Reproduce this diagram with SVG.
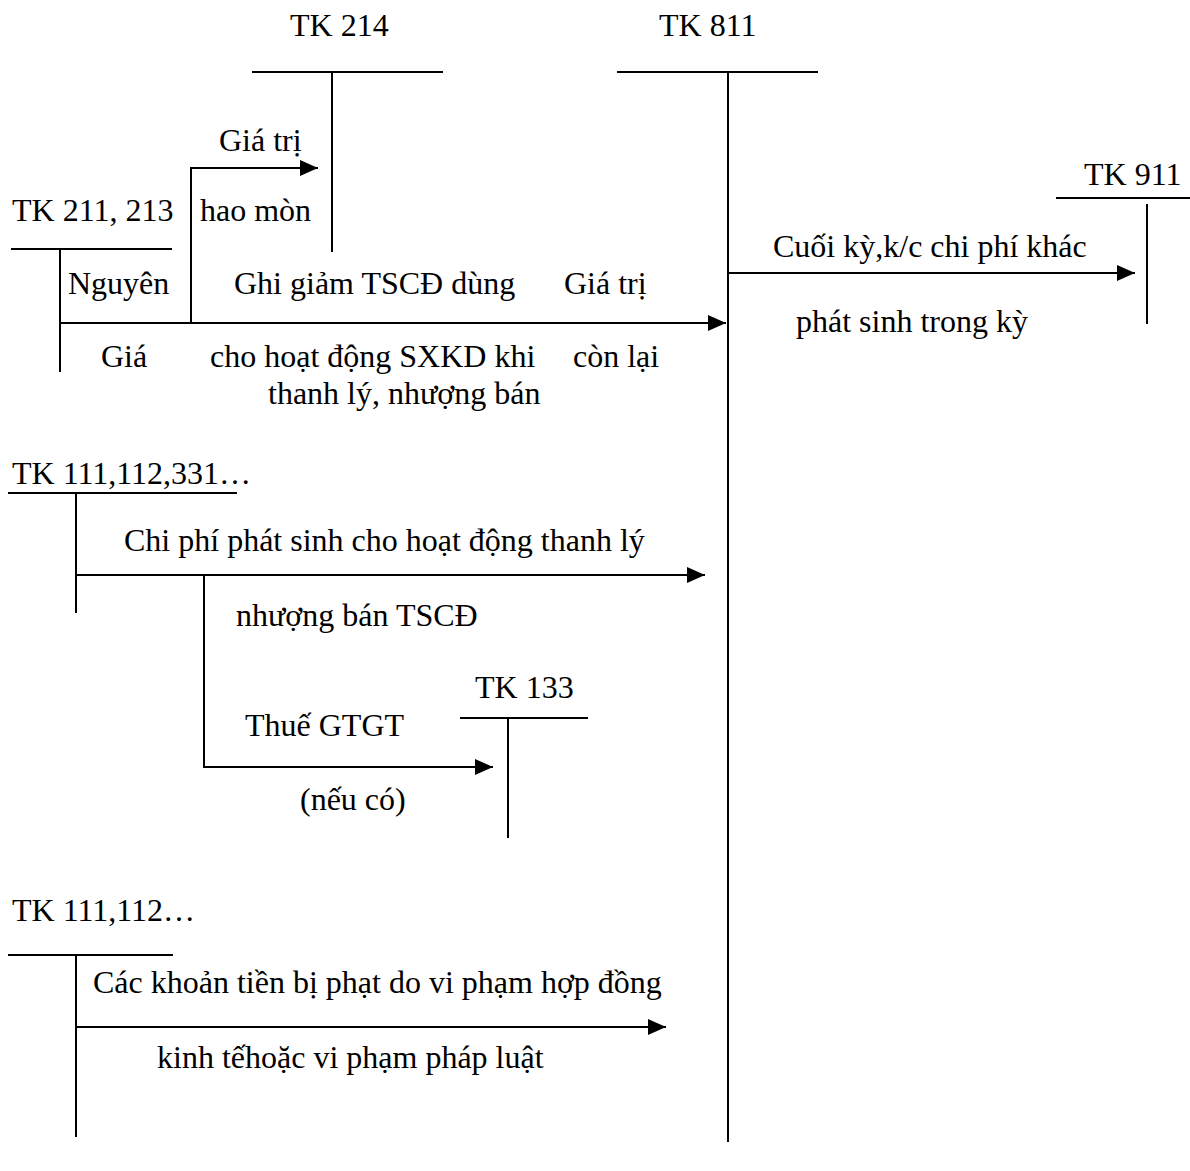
<svg xmlns="http://www.w3.org/2000/svg" width="1190" height="1171" viewBox="0 0 1190 1171">
  <style>
    text { font-family: "Liberation Serif", "Times New Roman", serif; font-size: 32px; fill: #000; }
    .ln { stroke: #000; stroke-width: 2; fill: none; }
    .ar { stroke: #000; stroke-width: 2; fill: none; marker-end: url(#head); }
  </style>
  <defs>
    <marker id="head" markerUnits="userSpaceOnUse" markerWidth="20" markerHeight="16" refX="18" refY="8" orient="auto">
      <path d="M0,0 L18,8 L0,16 Z" fill="#000"/>
    </marker>
  </defs>
  <rect width="1190" height="1171" fill="#fff"/>

  <!-- T-accounts -->
  <g id="tk214">
    <text x="290" y="36">TK 214</text>
    <line class="ln" x1="252" y1="72" x2="443" y2="72"/>
    <line class="ln" x1="332" y1="72" x2="332" y2="252"/>
  </g>
  <g id="tk811">
    <text x="659" y="36">TK 811</text>
    <line class="ln" x1="617" y1="72" x2="818" y2="72"/>
    <line class="ln" x1="728" y1="72" x2="728" y2="1142"/>
  </g>
  <g id="tk911">
    <text x="1084" y="185">TK 911</text>
    <line class="ln" x1="1056" y1="198" x2="1190" y2="198"/>
    <line class="ln" x1="1147" y1="204" x2="1147" y2="324"/>
  </g>
  <g id="tk211">
    <text x="12" y="221">TK 211, 213</text>
    <line class="ln" x1="11" y1="249" x2="172" y2="249"/>
    <line class="ln" x1="60" y1="249" x2="60" y2="372"/>
  </g>
  <g id="tk111-331">
    <text x="12" y="484">TK 111,112,331…</text>
    <line class="ln" x1="8" y1="493" x2="237" y2="493"/>
    <line class="ln" x1="76" y1="493" x2="76" y2="613"/>
  </g>
  <g id="tk133">
    <text x="475" y="698">TK 133</text>
    <line class="ln" x1="460" y1="718" x2="588" y2="718"/>
    <line class="ln" x1="508" y1="718" x2="508" y2="838"/>
  </g>
  <g id="tk111-112">
    <text x="12" y="921">TK 111,112…</text>
    <line class="ln" x1="8" y1="955" x2="173" y2="955"/>
    <line class="ln" x1="76" y1="955" x2="76" y2="1137"/>
  </g>

  <!-- Connectors -->
  <g id="connectors">
    <path class="ar" d="M60,323 L726,323"/>
    <path class="ar" d="M191,323 L191,168 L318,168"/>
    <path class="ar" d="M728,273 L1135,273"/>
    <path class="ar" d="M76,575 L705,575"/>
    <path class="ar" d="M204,575 L204,767 L493,767"/>
    <path class="ar" d="M76,1027 L666,1027"/>
  </g>

  <!-- Labels -->
  <g id="labels">
    <text x="219" y="151">Giá trị</text>
    <text x="200" y="221">hao mòn</text>
    <text x="68" y="294">Nguyên</text>
    <text x="101" y="367">Giá</text>
    <text x="234" y="294">Ghi giảm TSCĐ dùng</text>
    <text x="210" y="367">cho hoạt động SXKD khi</text>
    <text x="268" y="404">thanh lý, nhượng bán</text>
    <text x="564" y="294">Giá trị</text>
    <text x="573" y="367">còn lại</text>
    <text x="773" y="257">Cuối kỳ,k/c chi phí khác</text>
    <text x="796" y="332">phát sinh trong kỳ</text>
    <text x="124" y="551">Chi phí phát sinh cho hoạt động thanh lý</text>
    <text x="236" y="626">nhượng bán TSCĐ</text>
    <text x="245" y="736">Thuế GTGT</text>
    <text x="300" y="810">(nếu có)</text>
    <text x="93" y="993">Các khoản tiền bị phạt do vi phạm hợp đồng</text>
    <text x="157" y="1068">kinh tếhoặc vi phạm pháp luật</text>
  </g>
</svg>
